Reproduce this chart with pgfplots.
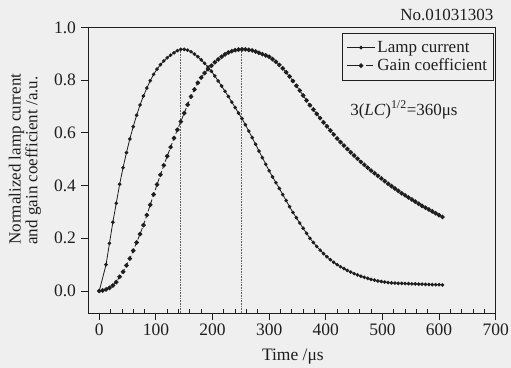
\documentclass[border=0pt]{standalone}
\usepackage{fontspec}
\setmainfont{Liberation Serif}
\usepackage{pgfplots}
\pgfplotsset{compat=1.18}
\usetikzlibrary{backgrounds}
\definecolor{paper}{RGB}{239,239,239}
\definecolor{ink}{RGB}{30,30,30}
\pgfplotsset{
  lamplegend/.style={legend image code/.code={\draw[mark repeat=2,mark phase=2,##1] plot coordinates {(0bp,0bp) (14bp,0bp) (28bp,0bp)};}},
  gainlegend/.style={legend image code/.code={\draw[##1,solid] (0bp,0bp) -- (13bp,0bp) (19bp,0bp) -- (26bp,0bp); \draw[##1] plot coordinates {(14bp,0bp)};}},
}
\begin{document}
\begin{tikzpicture}
\begin{axis}[
  scale only axis, width=407.2bp, height=285.5bp,
  xmin=-19, xmax=700, ymin=-0.0835, ymax=1.0,
  clip=false,
  axis line style={line width=0.9bp, ink},
  xtick={0,100,200,300,400,500,600,700}, minor x tick num=4,
  ytick={0,0.2,0.4,0.6,0.8,1.0},
  tick pos=left, tick align=outside,
  major tick length=7bp, minor tick length=3.5bp,
  minor tick style={yshift=3.5bp},
  tick style={ink, line width=0.8bp},
  /pgf/number format/assume math mode=true,
  ticklabel style={font=\fontsize{17.5bp}{19bp}\selectfont, ink},
  yticklabel style={xshift=-2bp, /pgf/number format/.cd, fixed, fixed zerofill, precision=1},
  xlabel={Time /μs},
  xlabel style={font=\fontsize{17.5bp}{19bp}\selectfont, ink, at={(axis description cs:0.502,-0.152)}, anchor=center},
  ylabel={Normalized lamp current\\and gain coefficient /a.u.},
  ylabel style={font=\fontsize{17bp}{15bp}\selectfont, ink, align=left, at={(axis description cs:-0.156,0.539)}, anchor=center, rotate=0},
  legend style={at={(axis description cs:0.9958,0.981)}, anchor=north east,
    font=\fontsize{17bp}{19bp}\selectfont, draw=ink, line width=0.8bp, fill=paper,
    inner xsep=4.5bp, inner ysep=6bp, row sep=1bp, text=ink},
  legend cell align=left,
]
\addplot[ink, line width=0.8bp, mark=*, mark size=1.4bp, mark options={solid}, lamplegend] coordinates {
(0,0) (12,0.100) (18,0.181) (24,0.261) (30,0.333) (36,0.405) (42,0.468) (48,0.525) (54,0.577) (60,0.624)
(66,0.667) (72,0.706) (78,0.740) (84,0.770) (90,0.798) (96,0.822) (102,0.842) (108,0.859) (114,0.873) (120,0.885)
(126,0.895) (132,0.904) (138,0.912) (144,0.917) (150,0.917) (156,0.914) (162,0.908) (168,0.899) (174,0.889) (180,0.877)
(186,0.864) (192,0.850) (198,0.834) (204,0.816) (210,0.797) (216,0.778) (222,0.758) (228,0.738) (234,0.717) (240,0.696)
(246,0.675) (252,0.654) (258,0.631) (264,0.607) (270,0.582) (276,0.557) (282,0.531) (288,0.506) (294,0.481) (300,0.456)
(306,0.433) (312,0.411) (318,0.389) (324,0.366) (330,0.343) (336,0.320) (342,0.298) (348,0.278) (354,0.258) (360,0.238)
(366,0.219) (372,0.200) (378,0.184) (384,0.169) (390,0.155) (396,0.142) (402,0.130) (408,0.119) (414,0.109) (420,0.100)
(426,0.092) (432,0.085) (438,0.078) (444,0.072) (450,0.066) (456,0.061) (462,0.056) (468,0.052) (474,0.048) (480,0.044)
(486,0.041) (492,0.038) (498,0.036) (504,0.034) (510,0.032) (516,0.031) (522,0.030) (528,0.029) (534,0.029) (540,0.028)
(546,0.028) (552,0.027) (558,0.027) (564,0.026) (570,0.026) (576,0.025) (582,0.025) (588,0.024) (594,0.024) (600,0.024)
(606,0.023)
};
\addlegendentry{Lamp current}
\addplot[ink, line width=0.8bp, dash pattern=on 5bp off 2.5bp, mark=*, mark size=1.9bp, mark options={solid}, gainlegend] coordinates {
(0,0) (6,0.002) (12,0.006) (18,0.012) (24,0.021) (30,0.034) (36,0.054) (42,0.073) (48,0.097) (54,0.123)
(60,0.153) (66,0.184) (72,0.216) (78,0.250) (84,0.288) (90,0.327) (96,0.366) (102,0.404) (108,0.441) (114,0.477)
(120,0.512) (126,0.546) (132,0.580) (138,0.612) (144,0.643) (150,0.675) (156,0.707) (162,0.738) (168,0.765) (174,0.790)
(180,0.810) (186,0.827) (192,0.842) (198,0.855) (204,0.868) (210,0.879) (216,0.889) (222,0.898) (228,0.905) (234,0.910)
(240,0.914) (246,0.916) (252,0.917) (258,0.917) (264,0.915) (270,0.913) (276,0.909) (282,0.904) (288,0.899) (294,0.894)
(300,0.889) (306,0.880) (312,0.870) (318,0.858) (324,0.845) (330,0.830) (336,0.814) (342,0.797) (348,0.779) (354,0.761)
(360,0.742) (366,0.723) (372,0.705) (378,0.689) (384,0.672) (390,0.656) (396,0.640) (402,0.625) (408,0.609) (414,0.594)
(420,0.579) (426,0.565) (432,0.552) (438,0.539) (444,0.526) (450,0.514) (456,0.502) (462,0.490) (468,0.479) (474,0.468)
(480,0.457) (486,0.447) (492,0.437) (498,0.427) (504,0.417) (510,0.407) (516,0.398) (522,0.389) (528,0.380) (534,0.371)
(540,0.363) (546,0.355) (552,0.347) (558,0.339) (564,0.331) (570,0.323) (576,0.316) (582,0.309) (588,0.302) (594,0.295)
(600,0.288) (606,0.281)
};
\addlegendentry{Gain coefficient}
\addplot[ink!70, line width=0.6bp, densely dotted, forget plot] coordinates {(142.5,-0.0835) (142.5,0.917)};
\addplot[ink!70, line width=0.6bp, densely dotted, forget plot] coordinates {(251,-0.0835) (251,0.917)};
\node[anchor=west, ink, font=\fontsize{17bp}{19bp}\selectfont] at (axis cs:437,0.687) {3(\textit{LC})\textsuperscript{1/2}=360μs};
\node[anchor=base east, ink, font=\fontsize{17bp}{19bp}\selectfont] at (rel axis cs:1.003,1) [yshift=6.5bp] {No.01031303};
\end{axis}
\pgfresetboundingbox
\begin{pgfonlayer}{background}
\fill[paper] ([shift={(-88.5bp,-55bp)}]current axis.south west) rectangle ([shift={(15.3bp,27.5bp)}]current axis.north east);
\end{pgfonlayer}
\path[use as bounding box] ([shift={(-88.5bp,-55bp)}]current axis.south west) rectangle ([shift={(15.3bp,27.5bp)}]current axis.north east);
\end{tikzpicture}
\end{document}
